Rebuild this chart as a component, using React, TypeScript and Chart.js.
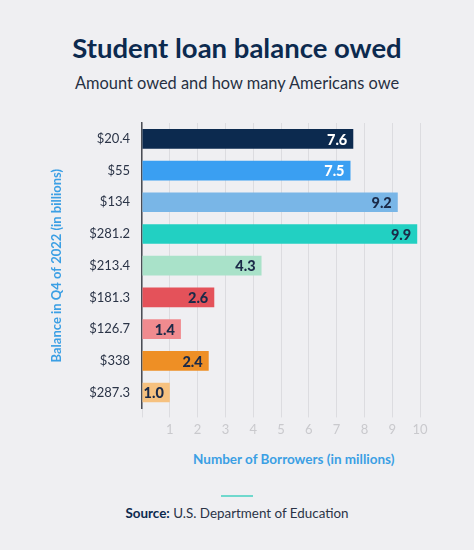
import { Chart, registerables, type ChartConfiguration, type Plugin } from 'chart.js'
import { useEffect, useRef } from 'react'

Chart.register(...registerables)

const BALANCES = ['$20.4', '$55', '$134', '$281.2', '$213.4', '$181.3', '$126.7', '$338', '$287.3']
const BORROWERS = [7.6, 7.5, 9.2, 9.9, 4.3, 2.6, 1.4, 2.4, 1.0]
const X_TICKS = [1, 2, 3, 4, 5, 6, 7, 8, 9, 10]

const BAR_COLORS = ['#0c2a4f', '#3a9ff2', '#79b6e7', '#22d0c2', '#a9e2c9', '#e4525a', '#f08b8f', '#ee8f25', '#f6c17f']
const LABEL_COLORS = ['#ffffff', '#ffffff', '#1b2a48', '#1b2a48', '#1b2a48', '#1b2a48', '#1b2a48', '#1b2a48', '#1b2a48']

const BG = '#efeff2'
const BLUE = '#3b9fe4'
const FONT = 'Lato, "Open Sans", sans-serif'

// value labels at the inner end of each bar
const barLabels: Plugin<'bar'> = {
  id: 'barLabels',
  afterDatasetsDraw(chart) {
    const { ctx } = chart
    const meta = chart.getDatasetMeta(0)
    ctx.save()
    ctx.font = `900 14.5px ${FONT}`
    ctx.textAlign = 'right'
    ctx.textBaseline = 'middle'
    meta.data.forEach((el, i) => {
      const { x, y } = el.getProps(['x', 'y'], true)
      ctx.fillStyle = LABEL_COLORS[i]
      ctx.fillText(BORROWERS[i].toFixed(1), x - 6, y + 1)
    })
    ctx.restore()
  },
}

function BorrowersChart() {
  const ref = useRef<HTMLCanvasElement>(null)

  useEffect(() => {
    if (!ref.current) return
    const chart = new Chart(ref.current, {
      type: 'bar',
      data: {
        labels: BALANCES,
        datasets: [{
          data: BORROWERS,
          backgroundColor: BAR_COLORS,
          borderWidth: 0,
          categoryPercentage: 1,
          barPercentage: 0.62,
        }],
      },
      options: {
        indexAxis: 'y',
        animation: false,
        responsive: true,
        maintainAspectRatio: false,
        layout: { padding: { left: 49, right: 54, top: 23, bottom: 3 } },
        plugins: { legend: { display: false }, tooltip: { enabled: false } },
        scales: {
          x: {
            min: 0,
            max: 10,
            afterBuildTicks: (scale) => { scale.ticks = [0, ...X_TICKS].map(v => ({ value: v })) },
            ticks: {
              callback: (v) => (v === 0 ? '' : String(v)),
              color: '#c9c9cd',
              font: { family: FONT, size: 13 },
              padding: 5,
            },
            grid: { color: '#dcdce0', lineWidth: 1, tickLength: 9, drawTicks: true, tickColor: '#dcdce0' },
            border: { display: false },
          },
          y: {
            afterFit: (scale) => { scale.width = 93 },
            ticks: {
              color: '#2b3447',
              font: { family: FONT, size: 13 },
              padding: 12,
            },
            grid: { display: false, drawTicks: false },
            border: { display: true, color: '#4a4d55', width: 1.5 },
            title: {
              display: true,
              text: 'Balance in Q4 of 2022 (in billions)',
              color: BLUE,
              font: { family: FONT, size: 13, weight: 'bold' },
              padding: { top: 0, bottom: 0 },
            },
          },
        },
      },
      plugins: [barLabels],
    } as ChartConfiguration<'bar'>)
    return () => { chart.destroy() }
  }, [])

  return (
    <div style={{ position: 'absolute', left: 0, top: 100, width: 474, height: 346 }}>
      <canvas ref={ref} role="img" aria-label="Student loan balance owed bar chart" />
    </div>
  )
}

export default function App() {
  return (
    <>
      <style>{`
        body { margin: 0; }
        .sl-wrap  { position: relative; width: 474px; height: 550px; background: ${BG}; font-family: ${FONT}; overflow: hidden; }
        .sl-title { position: absolute; left: 0; width: 474px; top: 34px; text-align: center; font-size: 27.5px; line-height: 27px; font-weight: 700; color: #0c2a4f; }
        .sl-sub   { position: absolute; left: 0; width: 474px; top: 74px; text-align: center; font-size: 16.4px; line-height: 17px; color: #262f42; }
        .sl-xtitle { position: absolute; left: 193px; top: 452px; font-size: 13.5px; line-height: 14px; font-weight: 700; color: ${BLUE}; white-space: nowrap; }
        .sl-rule  { position: absolute; left: 221px; top: 495px; width: 32px; height: 2px; background: #6fd8cd; }
        .sl-src   { position: absolute; left: 0; width: 474px; top: 506px; text-align: center; font-size: 13.4px; line-height: 14px; color: #2b3447; }
        .sl-src b { color: #0c2a4f; }
      `}</style>
      <div className="sl-wrap">
        <div className="sl-title">Student loan balance owed</div>
        <div className="sl-sub">Amount owed and how many Americans owe</div>
        <BorrowersChart />
        <div className="sl-xtitle">Number of Borrowers (in millions)</div>
        <div className="sl-rule" />
        <div className="sl-src"><b>Source:</b> U.S. Department of Education</div>
      </div>
    </>
  )
}
